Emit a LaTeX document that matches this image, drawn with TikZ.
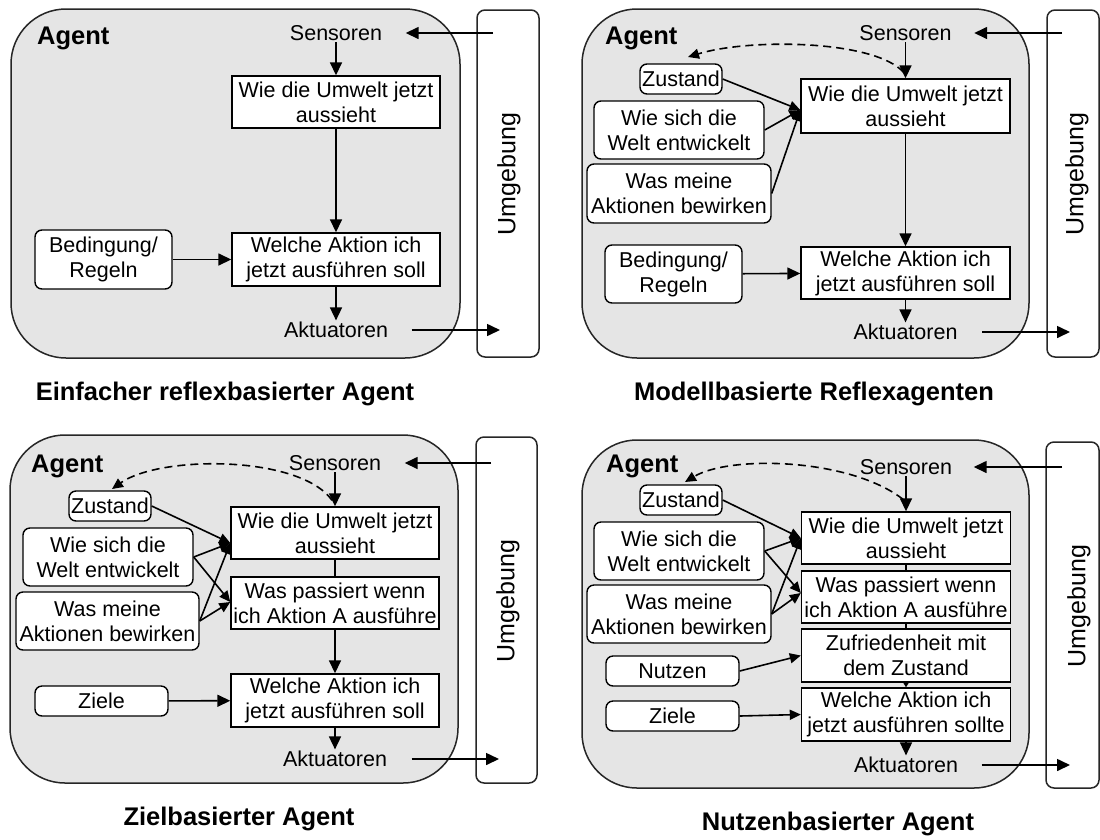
\documentclass[tikz,border=0pt]{standalone}
\usepackage{fontspec}
\setmainfont{Liberation Sans}
\usetikzlibrary{arrows.meta,calc}
\newcommand{\mtxt}{\fontsize{21.5}{25}\selectfont}
\newcommand{\albl}{\fontsize{25.5}{28}\selectfont\bfseries}
\newcommand{\etxt}{\fontsize{25}{28}\selectfont}
\begin{document}
\begin{tikzpicture}[x=1pt,y=-1pt,
  agentbox/.style={draw=black!85, line width=1.5pt, fill=black!10, rounded corners=55pt},
  envbox/.style={draw=black!85, line width=1.5pt, fill=white, rounded corners=8pt},
  sqbox/.style={draw, line width=1.4pt, fill=white, inner sep=0pt, align=center, font=\mtxt},
  rbox/.style={sqbox, rounded corners=7pt},
  lbl/.style={inner sep=1.5pt, font=\mtxt},
  agentlbl/.style={inner sep=0pt, anchor=west, font=\albl},
  captxt/.style={inner sep=0pt, font=\albl},
  envlbl/.style={rotate=90, inner sep=0pt, font=\etxt},
  arr/.style={-{Triangle[length=13pt,width=12pt]}, line width=1.6pt},
  sarr/.style={-{Triangle[length=11pt,width=10pt]}, line width=1.6pt},
  tarr/.style={-{Triangle[length=6pt,width=7pt]}, line width=1.6pt},
  dsh/.style={sarr, dash pattern=on 8pt off 5pt},
  plain/.style={line width=1.6pt},
]
\fill[white] (0,0) rectangle (1100,839);
\useasboundingbox (0,0) rectangle (1100,839);

% ================= Panel 1 =================
\draw[agentbox] (11,9) rectangle (460,358);
\draw[envbox] (477,10) rectangle (539,357);
\node[envlbl] (env1) at (509,174) {Umgebung};
\node[agentlbl] (ag1) at (37,38) {Agent};
\node[lbl] (sen1) at (336,33) {Sensoren};
\node[sqbox, minimum width=208pt, minimum height=52pt] (wie1) at (336,102) {Wie die Umwelt jetzt\\aussieht};
\node[sqbox, minimum width=208pt, minimum height=53pt] (wel1) at (336,259.5) {Welche Aktion ich\\jetzt ausführen soll};
\node[rbox, minimum width=137pt, minimum height=59pt] (bed1) at (103.5,259.5) {Bedingung/\\Regeln};
\node[lbl] (akt1) at (336,330) {Aktuatoren};
\coordinate (si1) at (493,33);
\coordinate (ao1) at (500,330);
\draw[arr] (si1) -- ($(sen1.east)+(22,0)$);
\draw[arr] ($(akt1.east)+(22,0)$) -- (ao1);
\draw[arr] (sen1) -- (wie1);
\draw[arr] (wie1) -- (wel1);
\draw[arr] (bed1) -- (wel1);
\draw[arr] (wel1) -- (akt1);
\node[captxt] (c1) at (225,394) {Einfacher reflexbasierter Agent};

% ================= Panel 2 =================
\draw[agentbox] (582,9) rectangle (1029,358);
\draw[envbox] (1047,10) rectangle (1099,357);
\node[envlbl] (env2) at (1077,174) {Umgebung};
\node[agentlbl] (ag2) at (605,38) {Agent};
\node[lbl] (sen2) at (905.5,33) {Sensoren};
\node[sqbox, minimum width=209pt, minimum height=54pt] (wie2) at (905.5,106) {Wie die Umwelt jetzt\\aussieht};
\node[rbox, minimum width=82pt, minimum height=30pt] (zst2) at (681,79) {Zustand};
\node[rbox, minimum width=170pt, minimum height=58pt] (ent2) at (679,130) {Wie sich die\\Welt entwickelt};
\node[rbox, minimum width=184pt, minimum height=59pt] (bew2) at (679,193.5) {Was meine\\Aktionen bewirken};
\node[rbox, minimum width=137pt, minimum height=58pt] (bed2) at (673.5,274) {Bedingung/\\Regeln};
\node[sqbox, minimum width=209pt, minimum height=52pt] (wel2) at (905.5,273) {Welche Aktion ich\\jetzt ausführen soll};
\node[lbl] (akt2) at (905.5,332) {Aktuatoren};
\coordinate (si2) at (1062,33);
\coordinate (ao2) at (1070,332);
\coordinate (d2) at (688,57);
\draw[arr] (si2) -- ($(sen2.east)+(21,0)$);
\draw[arr] ($(akt2.east)+(23,0)$) -- (ao2);
\draw[arr] (sen2) -- (wie2);
\draw[dsh] ($(wie2.north)+(-2,-6)$) .. controls (875,40) and (750,38) .. (d2);
\draw[sarr] (zst2.east) -- ($(wie2.west)+(0,4)$);
\draw[sarr] (ent2.east) -- ($(wie2.west)+(0,4)$);
\draw[sarr] (bew2.east) -- ($(wie2.west)+(0,4)$);
\draw[arr] (wie2) -- (wel2);
\draw[arr] (bed2) -- (wel2);
\draw[arr] (wel2) -- (akt2);
\node[captxt] (c2) at (814,394) {Modellbasierte Reflexagenten};

% ================= Panel 3 =================
\draw[agentbox] (10,435) rectangle (458,783);
\draw[envbox] (476,437) rectangle (537,783);
\node[envlbl] (env3) at (508,601) {Umgebung};
\node[agentlbl] (ag3) at (31,466) {Agent};
\node[lbl] (sen3) at (335,463) {Sensoren};
\node[rbox, minimum width=82pt, minimum height=30pt] (zst3) at (110,506) {Zustand};
\node[rbox, minimum width=170pt, minimum height=58pt] (ent3) at (108,557) {Wie sich die\\Welt entwickelt};
\node[rbox, minimum width=183pt, minimum height=58pt] (bew3) at (107.5,621) {Was meine\\Aktionen bewirken};
\node[rbox, minimum width=133pt, minimum height=30pt] (zie3) at (101.5,701) {Ziele};
\node[sqbox, minimum width=208pt, minimum height=52pt] (wie3) at (335,533) {Wie die Umwelt jetzt\\aussieht};
\node[sqbox, minimum width=208pt, minimum height=52pt] (was3) at (335,603) {Was passiert wenn\\ich Aktion A ausführe};
\node[sqbox, minimum width=208pt, minimum height=53pt] (wel3) at (335,700.5) {Welche Aktion ich\\jetzt ausführen soll};
\node[lbl] (akt3) at (335,759) {Aktuatoren};
\coordinate (si3) at (491,463);
\coordinate (ao3) at (499,759);
\coordinate (d3) at (112,489);
\draw[arr] (si3) -- ($(sen3.east)+(22,0)$);
\draw[arr] ($(akt3.east)+(23,0)$) -- (ao3);
\draw[arr] (sen3) -- (wie3);
\draw[dsh] ($(wie3.north)+(-3,-6)$) .. controls (300,455) and (160,455) .. (d3);
\draw[sarr] (zst3.east) -- ($(wie3.west)+(0,10)$);
\draw[sarr] (ent3.east) -- ($(wie3.west)+(0,10)$);
\draw[sarr] (bew3.east) -- ($(wie3.west)+(0,10)$);
\draw[sarr] (ent3.east) -- ($(was3.west)+(0,-1)$);
\draw[sarr] (bew3.east) -- ($(was3.west)+(0,-1)$);
\draw[plain] (wie3) -- (was3);
\draw[arr] (was3) -- (wel3);
\draw[arr] (zie3) -- (wel3);
\draw[arr] (wel3) -- (akt3);
\node[captxt] (c3) at (239,819) {Zielbasierter Agent};

% ================= Panel 4 =================
\draw[agentbox] (582,440) rectangle (1029,788);
\draw[envbox] (1046,442) rectangle (1099,788);
\node[envlbl] (env4) at (1079,606) {Umgebung};
\node[agentlbl] (ag4) at (606,466) {Agent};
\node[lbl] (sen4) at (906,467) {Sensoren};
\node[rbox, minimum width=82pt, minimum height=30pt] (zst4) at (681,500) {Zustand};
\node[rbox, minimum width=170pt, minimum height=58pt] (ent4) at (679,551) {Wie sich die\\Welt entwickelt};
\node[rbox, minimum width=184pt, minimum height=58pt] (bew4) at (679,614) {Was meine\\Aktionen bewirken};
\node[rbox, minimum width=133pt, minimum height=30pt] (nut4) at (672.5,671) {Nutzen};
\node[rbox, minimum width=133pt, minimum height=30pt] (zie4) at (672.5,716) {Ziele};
\node[sqbox, minimum width=209pt, minimum height=52pt] (wie4) at (906,538) {Wie die Umwelt jetzt\\aussieht};
\node[sqbox, minimum width=209pt, minimum height=52pt] (was4) at (906,597) {Was passiert wenn\\ich Aktion A ausführe};
\node[sqbox, minimum width=209pt, minimum height=53pt] (zuf4) at (906,655.5) {Zufriedenheit mit\\dem Zustand};
\node[sqbox, minimum width=209pt, minimum height=53pt] (wel4) at (906,714.5) {Welche Aktion ich\\jetzt ausführen sollte};
\node[lbl] (akt4) at (906,765) {Aktuatoren};
\coordinate (si4) at (1062,467);
\coordinate (ao4) at (1070,765);
\coordinate (d4) at (685,482);
\draw[arr] (si4) -- ($(sen4.east)+(20,0)$);
\draw[arr] ($(akt4.east)+(22,0)$) -- (ao4);
\draw[arr] (sen4) -- (wie4);
\draw[dsh] ($(wie4.north)+(-3,-12)$) .. controls (850,458) and (730,455) .. (d4);
\draw[sarr] (zst4.east) -- (wie4.west);
\draw[sarr] (ent4.east) -- (wie4.west);
\draw[sarr] (bew4.east) -- (wie4.west);
\draw[sarr] (ent4.east) -- ($(was4.west)+(0,-4)$);
\draw[sarr] (bew4.east) -- ($(was4.west)+(0,-4)$);
\draw[sarr] (nut4.east) -- (zuf4.west);
\draw[sarr] (zie4.east) -- (wel4.west);
\draw[plain] (wie4) -- (was4);
\draw[plain] (was4) -- (zuf4);
\draw[tarr] (zuf4) -- (wel4);
\draw[arr] (wel4) -- (akt4);
\node[captxt] (c4) at (838,824) {Nutzenbasierter Agent};
\end{tikzpicture}
\end{document}
